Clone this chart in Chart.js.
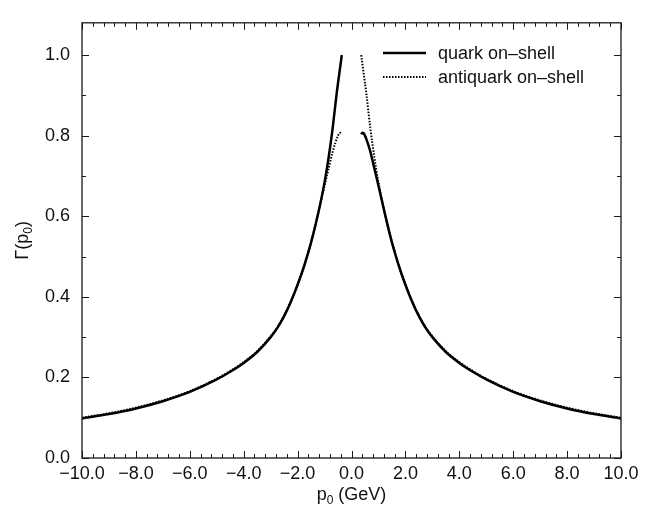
<!DOCTYPE html>
<html lang="en">
<head>
  <meta charset="UTF-8" />
  <title>Gamma(p0)</title>
  <script src="https://cdn.jsdelivr.net/npm/chart.js"></script>
  <style>
    body { margin: 0; background: #fff; }
    canvas { display: block; }
  </style>
</head>
<body>

  <canvas id="gammaChart" width="664" height="512"></canvas>

  <script>
    // quark on-shell, p0 < 0 branch (goes up to 1.0)
    const quarkLeftP = [-10, -9, -8, -7, -6, -5, -4.5, -4, -3.5, -3, -2.75, -2.5, -2.25, -2, -1.75, -1.5, -1.25, -1.0, -0.85, -0.7, -0.55, -0.45, -0.36];
    const quarkLeftG = [0.098, 0.109, 0.123, 0.141, 0.164, 0.195, 0.214, 0.236, 0.263, 0.300, 0.323, 0.352, 0.388, 0.430, 0.478, 0.535, 0.603, 0.684, 0.745, 0.818, 0.905, 0.955, 1.000];
    // quark on-shell, p0 > 0 branch (starts near 0.8)
    const quarkRightP = [0.36, 0.40, 0.45, 0.5, 0.6, 0.7, 0.85, 1.0, 1.25, 1.5, 1.75, 2, 2.25, 2.5, 2.75, 3, 3.5, 4, 4.5, 5, 6, 7, 8, 9, 10];
    const quarkRightG = [0.803, 0.807, 0.806, 0.800, 0.782, 0.760, 0.718, 0.676, 0.603, 0.535, 0.478, 0.430, 0.388, 0.352, 0.323, 0.300, 0.263, 0.236, 0.214, 0.195, 0.164, 0.141, 0.123, 0.109, 0.098];

    // antiquark on-shell, p0 < 0 branch (ends near 0.8)
    const antiLeftP = [-10, -9, -8, -7, -6, -5, -4.5, -4, -3.5, -3, -2.75, -2.5, -2.25, -2, -1.75, -1.5, -1.25, -1.0, -0.85, -0.7, -0.6, -0.5, -0.45, -0.40, -0.36];
    const antiLeftG = [0.100, 0.111, 0.125, 0.143, 0.166, 0.197, 0.216, 0.238, 0.265, 0.302, 0.325, 0.354, 0.389, 0.431, 0.478, 0.535, 0.603, 0.676, 0.718, 0.760, 0.782, 0.800, 0.806, 0.807, 0.803];
    // antiquark on-shell, p0 > 0 branch (starts at 1.0)
    const antiRightP = [0.36, 0.45, 0.55, 0.7, 0.85, 1.0, 1.25, 1.5, 1.75, 2, 2.25, 2.5, 2.75, 3, 3.5, 4, 4.5, 5, 6, 7, 8, 9, 10];
    const antiRightG = [1.000, 0.955, 0.905, 0.818, 0.745, 0.684, 0.603, 0.536, 0.479, 0.431, 0.389, 0.354, 0.325, 0.302, 0.265, 0.238, 0.216, 0.197, 0.166, 0.143, 0.125, 0.111, 0.100];

    const seriesNames = ["quark on\u2013shell", "antiquark on\u2013shell"];
    const xTickLabels = [-10, -8, -6, -4, -2, 0, 2, 4, 6, 8, 10];
    const yTickLabels = [0, 0.2, 0.4, 0.6, 0.8, 1.0];

    const FONT = "'Liberation Sans', Arial, Helvetica, sans-serif";

    // two branches joined by a null point so the gap at p0 = 0 stays open
    function branches(p1, g1, p2, g2) {
      const pts = p1.map((p, i) => ({ x: p, y: g1[i] }));
      pts.push({ x: 0, y: null });
      return pts.concat(p2.map((p, i) => ({ x: p, y: g2[i] })));
    }

    function fmt(v) {
      const s = Math.abs(v).toFixed(1);
      return v < 0 ? "\u2212" + s : s;
    }

    // frame, inward ticks on all four sides, axis titles and the legend
    const decorations = {
      id: "decorations",
      afterDraw(chart) {
        const ctx = chart.ctx;
        const a = chart.chartArea;
        const xs = chart.scales.x;
        const ys = chart.scales.y;
        ctx.save();
        ctx.strokeStyle = "#1a1a1a";
        ctx.lineWidth = 1.3;
        ctx.strokeRect(a.left, a.top, a.right - a.left, a.bottom - a.top);

        ctx.lineWidth = 1;
        ctx.beginPath();
        for (let i = 0; i <= 50; i++) {
          const px = Math.round(xs.getPixelForValue(-10 + 0.4 * i)) + 0.5;
          const len = i % 5 === 0 ? 7 : 4;
          ctx.moveTo(px, a.bottom); ctx.lineTo(px, a.bottom - len);
          ctx.moveTo(px, a.top); ctx.lineTo(px, a.top + len);
        }
        for (let i = 0; i <= 10; i++) {
          const py = Math.round(ys.getPixelForValue(0.1 * i)) + 0.5;
          const len = i % 2 === 0 ? 7 : 4;
          ctx.moveTo(a.left, py); ctx.lineTo(a.left + len, py);
          ctx.moveTo(a.right, py); ctx.lineTo(a.right - len, py);
        }
        ctx.stroke();

        ctx.fillStyle = "#111";
        ctx.textBaseline = "alphabetic";

        // x title: p0 (GeV)
        ctx.font = "18px " + FONT;
        const wp = ctx.measureText("p").width;
        const wr = ctx.measureText(" (GeV)").width;
        ctx.font = "12px " + FONT;
        const w0 = ctx.measureText("0").width;
        let x0 = (a.left + a.right) / 2 - (wp + w0 + wr) / 2;
        const yb = 500;
        ctx.font = "18px " + FONT;
        ctx.textAlign = "left";
        ctx.fillText("p", x0, yb);
        ctx.font = "12px " + FONT;
        ctx.fillText("0", x0 + wp, yb + 4);
        ctx.font = "18px " + FONT;
        ctx.fillText(" (GeV)", x0 + wp + w0, yb);

        // y title: Γ(p0), rotated
        ctx.save();
        ctx.translate(28, (a.top + a.bottom) / 2);
        ctx.rotate(-Math.PI / 2);
        ctx.font = "18px " + FONT;
        const wa = ctx.measureText("\u0393(p").width;
        const wc = ctx.measureText(")").width;
        ctx.font = "12px " + FONT;
        const ws = ctx.measureText("0").width;
        const start = -(wa + ws + wc) / 2;
        ctx.font = "18px " + FONT;
        ctx.fillText("\u0393(p", start, 0);
        ctx.font = "12px " + FONT;
        ctx.fillText("0", start + wa, 4);
        ctx.font = "18px " + FONT;
        ctx.fillText(")", start + wa + ws, 0);
        ctx.restore();

        // legend inside the plot, top right
        chart.data.datasets.forEach((ds, i) => {
          const ly = 53 + i * 24;
          ctx.save();
          ctx.strokeStyle = ds.borderColor;
          ctx.lineWidth = ds.borderWidth;
          ctx.setLineDash(ds.borderDash || []);
          ctx.beginPath();
          ctx.moveTo(383, ly);
          ctx.lineTo(426, ly);
          ctx.stroke();
          ctx.restore();
          ctx.font = "18px " + FONT;
          ctx.textBaseline = "middle";
          ctx.fillText(ds.label, 438, ly + 1);
        });
        ctx.restore();
      }
    };

    new Chart(document.getElementById("gammaChart"), {
      type: "line",
      data: {
        datasets: [
          {
            label: seriesNames[0],
            data: branches(quarkLeftP, quarkLeftG, quarkRightP, quarkRightG),
            borderColor: "#000",
            borderWidth: 2.5,
            pointRadius: 0,
            cubicInterpolationMode: "monotone",
            spanGaps: false,
            fill: false
          },
          {
            label: seriesNames[1],
            data: branches(antiLeftP, antiLeftG, antiRightP, antiRightG),
            borderColor: "#000",
            borderWidth: 2,
            borderDash: [1.5, 1.5],
            pointRadius: 0,
            cubicInterpolationMode: "monotone",
            spanGaps: false,
            fill: false
          }
        ]
      },
      options: {
        responsive: false,
        animation: false,
        layout: { padding: { top: 17, right: 43, left: 0, bottom: 0 } },
        plugins: {
          legend: { display: false },
          tooltip: { enabled: false }
        },
        scales: {
          x: {
            type: "linear",
            min: -10,
            max: 10,
            afterBuildTicks: s => { s.ticks = xTickLabels.map(v => ({ value: v })); },
            afterFit: s => { s.height = 54; },
            grid: { display: false, drawTicks: false },
            border: { display: false },
            ticks: {
              padding: 5,
              maxRotation: 0,
              autoSkip: false,
              color: "#111",
              font: { family: FONT, size: 18 },
              callback: v => fmt(v)
            }
          },
          y: {
            type: "linear",
            min: 0,
            max: 1.08,
            afterBuildTicks: s => { s.ticks = yTickLabels.map(v => ({ value: v })); },
            afterFit: s => { s.width = 82; },
            grid: { display: false, drawTicks: false },
            border: { display: false },
            ticks: {
              padding: 12,
              autoSkip: false,
              color: "#111",
              font: { family: FONT, size: 18 },
              callback: v => fmt(v)
            }
          }
        }
      },
      plugins: [decorations]
    });
  </script>

</body>
</html>
